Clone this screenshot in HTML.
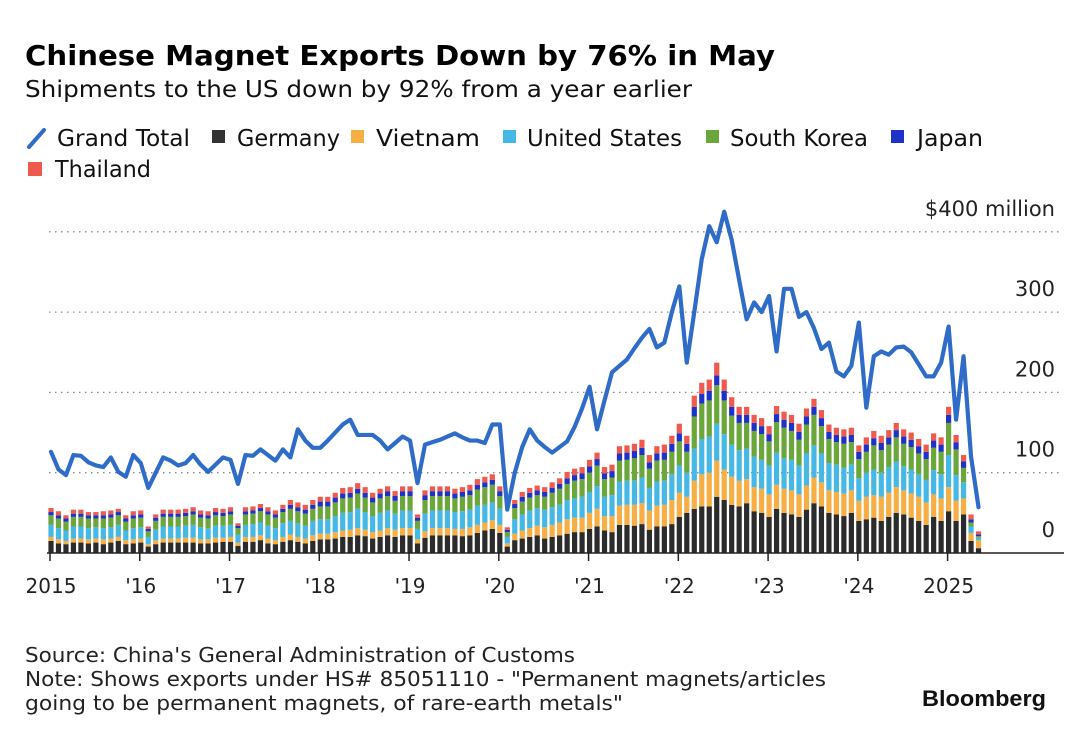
<!DOCTYPE html>
<html><head><meta charset="utf-8"><style>
body{margin:0;background:#fff;width:1080px;height:740px;overflow:hidden}
svg{display:block;font-family:"DejaVu Sans","Liberation Sans",sans-serif}
</style></head><body>
<svg id="c" width="1080" height="740" viewBox="0 0 1080 740">
<text x="25" y="65" font-size="28" font-weight="bold" textLength="750" lengthAdjust="spacingAndGlyphs" fill="#000">Chinese Magnet Exports Down by 76% in May</text>
<text x="25" y="97" font-size="23" textLength="667" lengthAdjust="spacingAndGlyphs" fill="#111">Shipments to the US down by 92% from a year earlier</text>
<g font-size="23" fill="#111">
<line x1="29" y1="147" x2="44" y2="130" stroke="#2f6cc8" stroke-width="4" stroke-linecap="round"/>
<text x="57" y="146" textLength="133" lengthAdjust="spacingAndGlyphs">Grand Total</text>
<rect x="212" y="130" width="13" height="13" fill="#333"/>
<text x="237" y="146" textLength="103" lengthAdjust="spacingAndGlyphs">Germany</text>
<rect x="351" y="130" width="13" height="13" fill="#f7ae45"/>
<text x="376" y="146" textLength="104" lengthAdjust="spacingAndGlyphs">Vietnam</text>
<rect x="503" y="130" width="13" height="13" fill="#45b8e6"/>
<text x="527" y="146" textLength="155" lengthAdjust="spacingAndGlyphs">United States</text>
<rect x="706" y="130" width="13" height="13" fill="#6aa63a"/>
<text x="730" y="146" textLength="138" lengthAdjust="spacingAndGlyphs">South Korea</text>
<rect x="891" y="130" width="13" height="13" fill="#1f32c8"/>
<text x="917" y="146" textLength="66" lengthAdjust="spacingAndGlyphs">Japan</text>
<rect x="28" y="162" width="14" height="14" fill="#ef5a4f"/>
<text x="55" y="177" textLength="96" lengthAdjust="spacingAndGlyphs">Thailand</text>
</g>
<g id="grid"></g><g id="bars"></g><g id="line"></g><g id="axes"></g>
<g font-size="20" fill="#222">
<text x="25" y="662" textLength="550" lengthAdjust="spacingAndGlyphs">Source: China's General Administration of Customs</text>
<text x="25" y="686" textLength="801" lengthAdjust="spacingAndGlyphs">Note: Shows exports under HS# 85051110 - "Permanent magnets/articles</text>
<text x="25" y="710" textLength="598" lengthAdjust="spacingAndGlyphs">going to be permanent magnets, of rare-earth metals"</text>
</g>
<text x="922" y="706" font-size="22" font-weight="bold" font-family="Liberation Sans, sans-serif" textLength="124" lengthAdjust="spacingAndGlyphs" fill="#111">Bloomberg</text>
</svg>
<script>
const total=[126,104,97,122,121,113,109,107,119,101,95,122,112,81,100,119,115,109,112,122,110,101,110,119,116,86,122,121,129,122,115,129,119,154,140,131,131,140,150,160,166,147,147,147,140,129,137,145,140,87,135,138,141,145,149,144,140,140,137,160,160,54,100,132,154,140,132,125,132,139,157,180,207,154,190,225,233,241,255,268,279,256,262,300,332,237,300,366,407,387,425,390,340,291,312,300,320,251,329,329,294,300,280,254,262,226,220,233,287,181,245,251,247,256,257,250,235,220,220,237,282,166,245,120,57];
const germany=[15,12,11,13,13,12,13,11,13,15,11,12,13,8,11,13,13,13,13,13,12,12,13,14,14,9,14,14,16,12,11,14,16,14,12,15,17,17,18,20,20,22,21,18,20,22,20,22,22,12,19,22,22,22,22,21,22,25,28,30,25,8,16,18,20,22,18,20,22,24,26,26,30,33,28,26,35,35,34,36,29,33,33,36,45,50,55,58,58,70,66,60,58,62,52,50,45,55,50,48,45,54,62,58,50,48,46,50,40,42,44,40,45,50,48,44,40,35,45,40,52,40,48,15,6];
const vietnam=[5,5,4,5,5,5,5,6,5,5,5,5,5,3,5,5,5,5,6,6,5,5,6,5,6,4,6,6,6,6,5,6,7,6,6,7,7,7,8,8,9,9,8,8,8,9,9,9,9,5,8,9,9,9,8,9,10,10,10,11,10,4,8,10,11,12,14,15,16,18,18,18,20,22,18,20,24,25,26,26,24,26,27,30,30,20,35,40,42,45,38,35,32,30,30,30,28,30,30,30,28,30,32,30,28,28,28,28,25,28,28,30,30,32,30,30,30,28,28,28,30,25,20,10,10];
const us=[15,14,13,15,15,14,14,14,14,15,12,14,14,9,13,15,15,15,15,16,15,14,15,15,15,10,15,16,16,16,15,17,17,17,16,18,18,18,20,22,22,24,22,20,22,22,20,22,22,13,22,22,22,22,21,22,22,24,22,22,20,8,18,20,22,22,22,22,22,24,24,26,26,28,24,26,30,30,30,32,28,30,30,32,34,30,40,44,45,46,44,40,38,38,38,36,36,40,38,38,36,40,40,36,34,34,32,32,28,30,32,30,32,32,30,30,28,28,30,30,40,32,20,8,3];
const korea=[12,12,11,12,12,12,11,12,12,12,11,12,12,7,11,12,12,12,12,13,12,12,13,12,13,8,13,13,14,14,13,14,15,15,15,15,16,16,17,18,18,19,18,17,18,18,16,18,18,10,17,18,18,18,17,18,18,20,22,22,16,6,14,16,16,16,16,18,20,20,22,22,24,26,22,22,26,26,28,28,24,26,26,28,30,26,40,44,45,48,42,36,34,32,32,32,30,38,38,36,32,36,38,34,30,28,30,28,24,26,30,28,28,30,28,28,26,26,28,28,40,32,18,5,2];
const japan=[4,4,4,4,4,4,4,4,4,4,4,4,4,3,4,4,4,4,4,4,4,4,4,4,4,3,4,4,4,4,4,4,5,5,5,5,6,6,6,6,6,6,6,6,6,6,6,6,6,4,6,6,6,6,6,6,6,6,6,6,6,3,5,6,6,6,6,6,6,7,7,7,8,8,7,8,9,9,9,9,8,9,9,10,10,10,12,12,12,12,12,11,10,10,10,10,9,10,10,10,10,10,10,10,9,9,9,9,9,9,9,9,9,9,9,9,9,9,9,9,10,9,8,4,2];
const thailand=[5,5,4,5,5,4,4,5,5,4,4,5,5,3,4,5,5,5,5,5,5,5,5,5,5,3,5,5,5,5,5,5,6,6,6,6,6,6,6,7,7,7,7,6,6,6,6,6,6,4,6,6,6,6,6,6,7,7,7,7,6,3,5,6,6,6,6,7,7,8,8,8,8,8,8,8,9,9,9,10,9,9,10,10,12,10,14,14,14,16,14,12,10,10,10,10,10,10,10,10,10,10,10,10,9,9,9,9,8,9,9,9,9,9,9,9,9,9,9,9,10,9,8,6,4];
const yTicks=[0,100,200,300,400];
const yTickLabels=["0","100","200","300","$400 million"];
const xYears=[2015,2016,2017,2018,2019,2020,2021,2022,2023,2024,2025];
const xYearLabels=["2015","'16","'17","'18","'19","'20","'21","'22","'23","'24","2025"];
const NS="http://www.w3.org/2000/svg";
const x=i=>51+i*7.48;
const y=v=>553-v*0.803;
function mk(t,a,p){const e=document.createElementNS(NS,t);for(const k in a)e.setAttribute(k,a[k]);p.appendChild(e);return e;}
const grid=document.getElementById('grid'),bars=document.getElementById('bars'),lineG=document.getElementById('line'),axes=document.getElementById('axes');
yTicks.forEach((v,k)=>{
  if(v>0){const g=mk('line',{x1:49,x2:1062,y1:y(v),y2:y(v),stroke:'#888','stroke-width':1.3,'stroke-dasharray':'1.5 4.5'},grid);
  
  }
  const t=mk('text',{x:1055,y:y(v)-16,'text-anchor':'end','font-size':21,fill:'#222'},axes);
  t.textContent=yTickLabels[k];
  
  
});
const series=[germany,vietnam,us,korea,japan,thailand];
const cols=['#2b2b2b','#f7ae45','#45b8e6','#6aa63a','#1f32c8','#ef5a4f'];
const names=['germany','vietnam','us','korea','japan','thailand'];
for(let i=0;i<total.length;i++){
  let acc=0;
  series.forEach((s,k)=>{
    const r=mk('rect',{x:x(i)-2.6,y:y(acc+s[i]),width:5.2,height:Math.max(0,y(acc)-y(acc+s[i])),fill:cols[k]},bars);
    
    
    acc+=s[i];
  });
}
const base=mk('line',{x1:47,x2:1064,y1:553,y2:553,stroke:'#222','stroke-width':1.5},axes);


xYears.forEach((yr,k)=>{
  const xi=x((yr-2015)*12)-1;
  const tk=mk('line',{x1:xi,x2:xi,y1:553,y2:561,stroke:'#222','stroke-width':1.5},axes);
  
  
  const t=mk('text',{x:xi+1,y:593,'text-anchor':'middle','font-size':20,fill:'#222'},axes);
  t.textContent=xYearLabels[k];
  
  
});
const pl=mk('polyline',{points:total.map((v,i)=>x(i)+','+y(v)).join(' '),fill:'none',stroke:'#2f6cc8','stroke-width':4.2,'stroke-linejoin':'round','stroke-linecap':'round'},lineG);


</script>
</body></html>
